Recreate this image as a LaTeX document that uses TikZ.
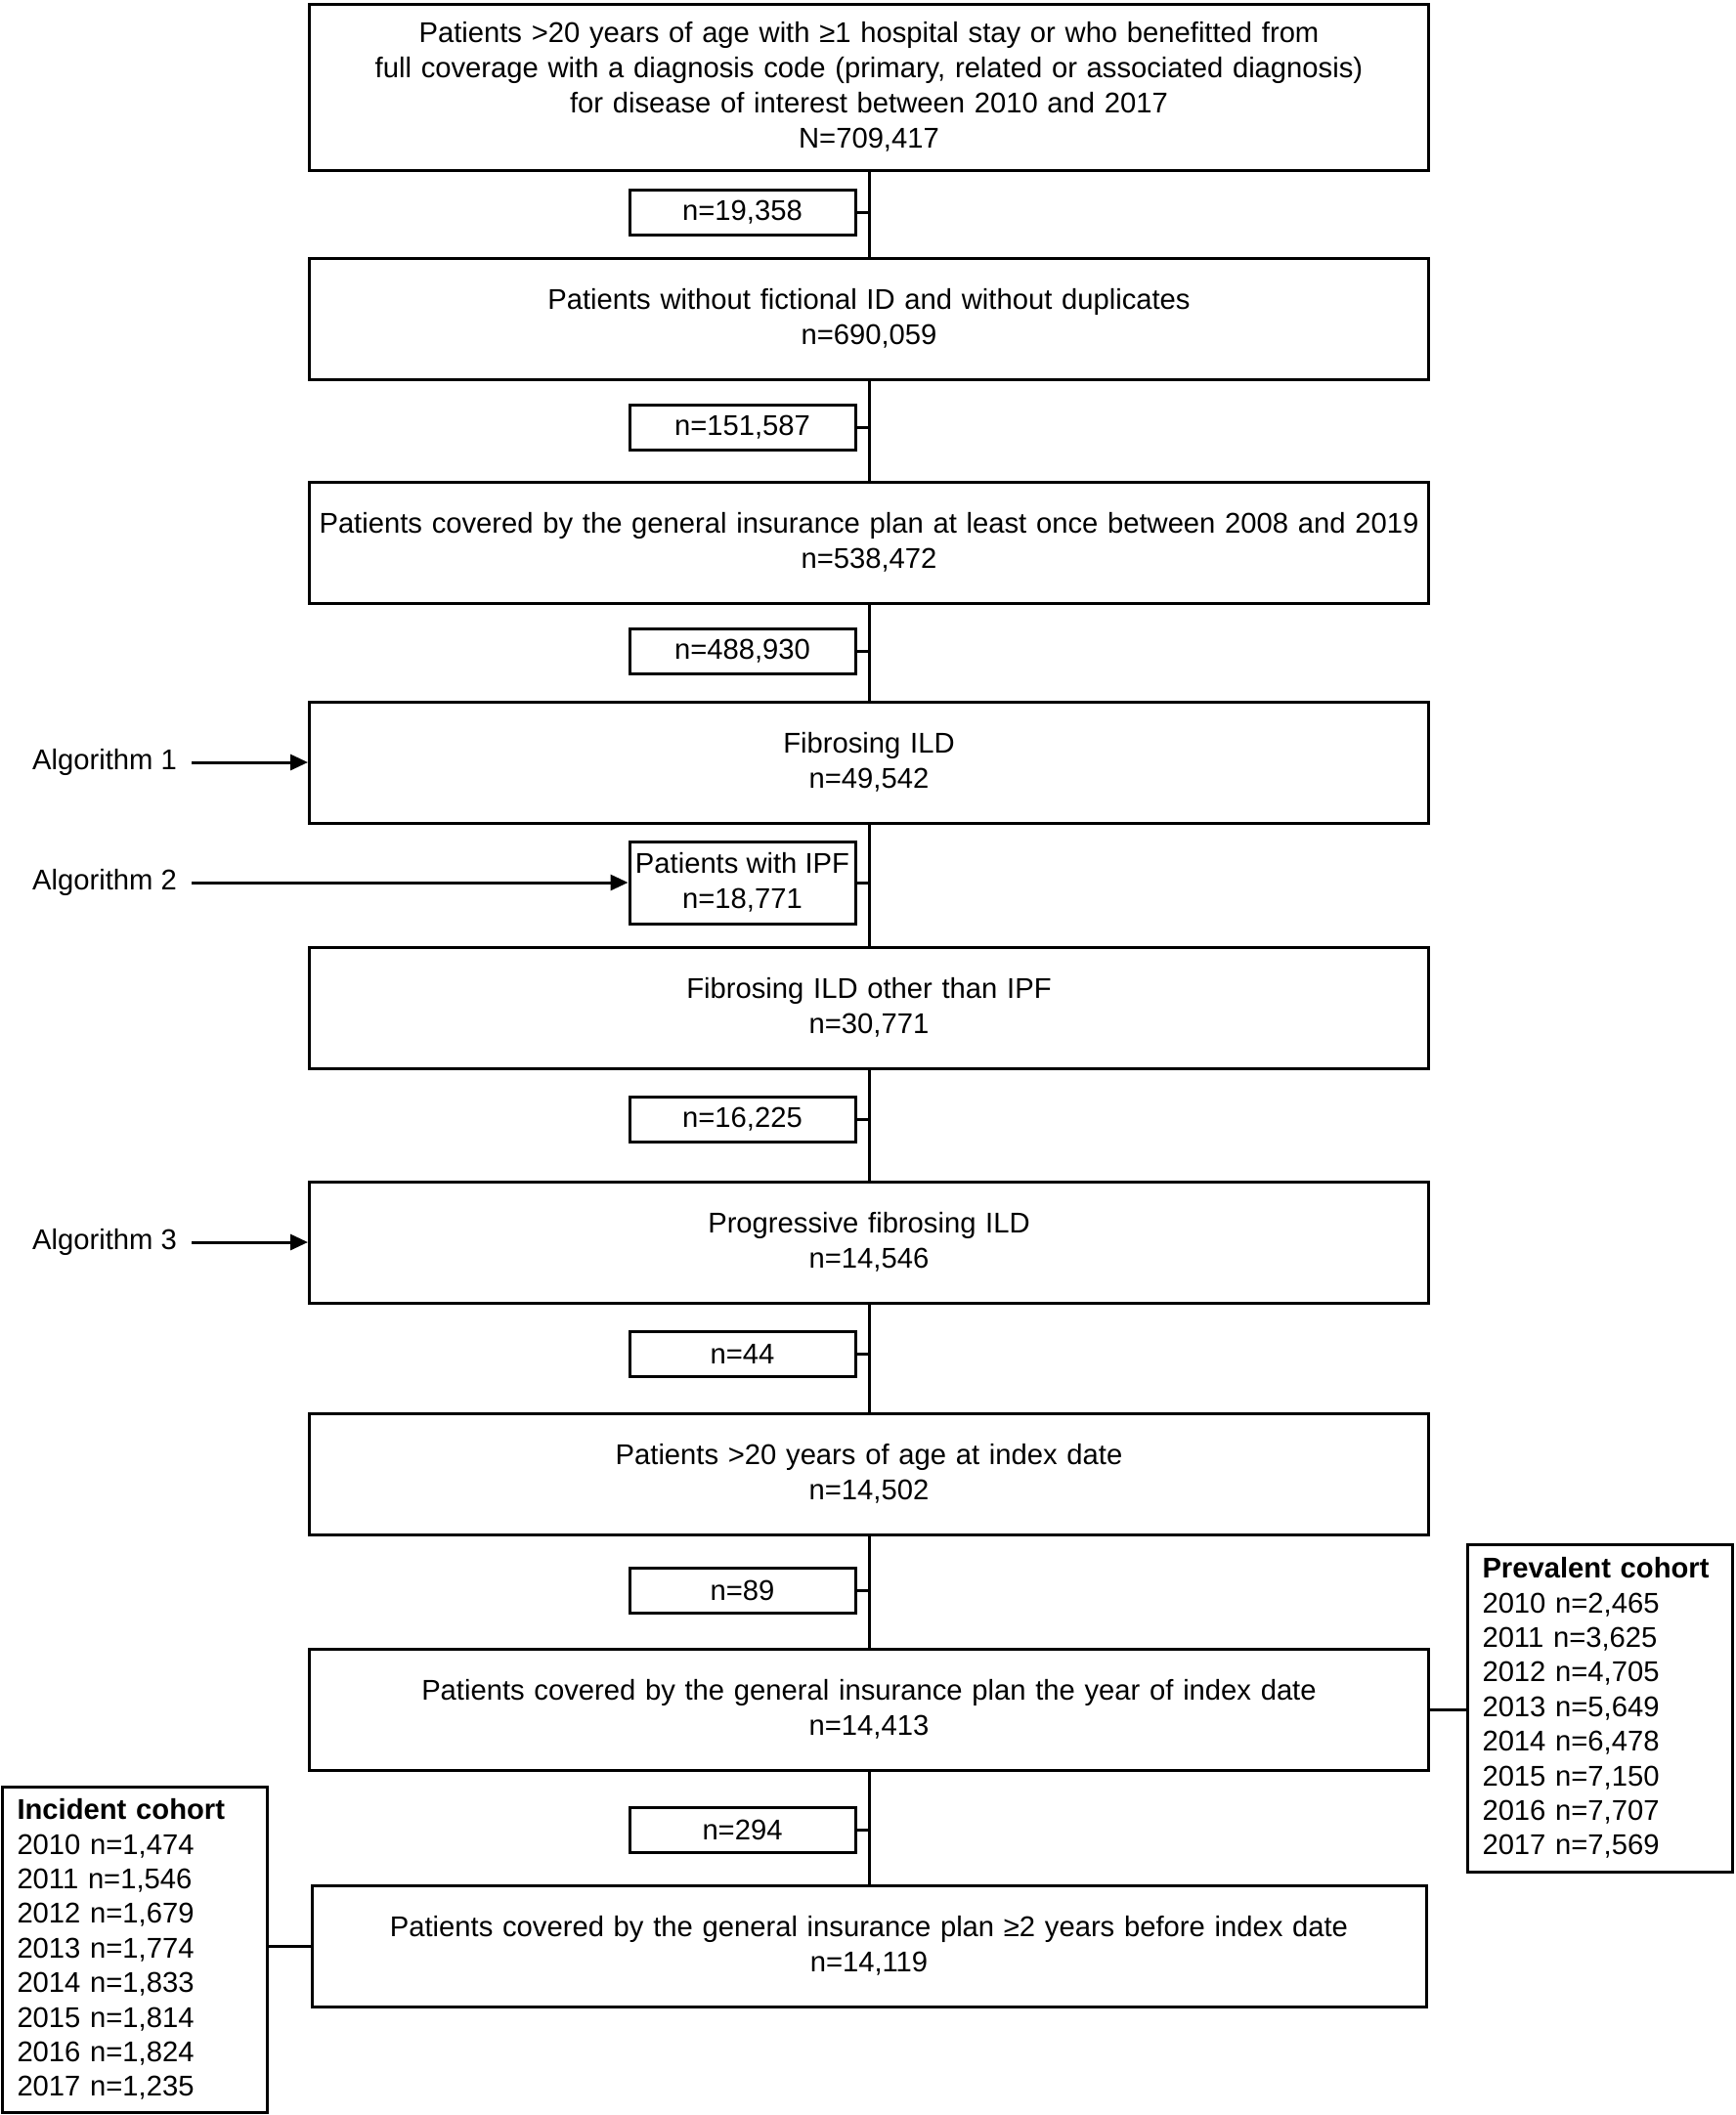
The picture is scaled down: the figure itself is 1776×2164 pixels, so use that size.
\documentclass[tikz,border=0pt]{standalone}
\usepackage{fontspec}
\setmainfont{Liberation Sans}
\usetikzlibrary{arrows.meta}
\begin{document}
\begin{tikzpicture}[x=1pt,y=-1pt,
  every node/.style={font=\fontsize{29.2}{36}\selectfont},
  mainbox/.style={draw, line width=3pt, text width=1135pt, inner xsep=5pt, inner ysep=0pt, minimum height=124pt, align=center},
  exclbox/.style={draw, line width=3pt, minimum width=231pt, minimum height=46pt, inner sep=0pt, align=center},
  cohortbox/.style={draw, line width=3pt, text width=240pt, inner xsep=15.5pt, inner ysep=0pt, minimum height=335pt, align=left, font=\fontsize{29.2}{35.4}\selectfont},
  alglabel/.style={inner sep=0pt, anchor=west},
  link/.style={line width=3pt},
  arr/.style={-{Triangle[length=18pt,width=16pt]}, line width=3pt, shorten <=15pt}]
\useasboundingbox (0,0) rectangle (1776,2164);

\node[mainbox, minimum height=170pt] (b1) at (889,89) {Patients >20 years of age with ≥1 hospital stay or who benefitted from\\full coverage with a diagnosis code (primary, related or associated diagnosis)\\for disease of interest between 2010 and 2017\\N=709,417};
\node[mainbox] (b2) at (889,326) {Patients without fictional ID and without duplicates\\n=690,059};
\node[mainbox, text width=1145pt, inner xsep=0pt] (b3) at (889,555) {Patients covered by the general insurance plan at least once between 2008 and 2019\\n=538,472};
\node[mainbox] (b4) at (889,780) {Fibrosing ILD\\n=49,542};
\node[mainbox] (b5) at (889,1031) {Fibrosing ILD other than IPF\\n=30,771};
\node[mainbox] (b6) at (889,1271) {Progressive fibrosing ILD\\n=14,546};
\node[mainbox] (b7) at (889,1508) {Patients >20 years of age at index date\\n=14,502};
\node[mainbox] (b8) at (889,1749) {Patients covered by the general insurance plan the year of index date\\n=14,413};
\node[mainbox, text width=1130pt] (b9) at (889,1991) {Patients covered by the general insurance plan ≥2 years before index date\\n=14,119};

\node[exclbox] (e1) at (759.5,217) {n=19,358};
\node[exclbox] (e2) at (759.5,437) {n=151,587};
\node[exclbox] (e3) at (759.5,666) {n=488,930};
\node[exclbox, minimum height=84pt] (ipf) at (759.5,903) {Patients with IPF\\n=18,771};
\node[exclbox] (e4) at (759.5,1145) {n=16,225};
\node[exclbox] (e5) at (759.5,1385) {n=44};
\node[exclbox] (e6) at (759.5,1627) {n=89};
\node[exclbox] (e7) at (759.5,1872) {n=294};

\node[alglabel] (a1) at (33,780) {Algorithm 1};
\node[alglabel] (a2) at (33,903) {Algorithm 2};
\node[alglabel] (a3) at (33,1271) {Algorithm 3};

\node[cohortbox] (prev) at (1636.5,1747.5) {\textbf{Prevalent cohort}\\2010 n=2,465\\2011 n=3,625\\2012 n=4,705\\2013 n=5,649\\2014 n=6,478\\2015 n=7,150\\2016 n=7,707\\2017 n=7,569};
\node[cohortbox, minimum height=333pt] (inc) at (137.5,1994.5) {\textbf{Incident cohort}\\2010 n=1,474\\2011 n=1,546\\2012 n=1,679\\2013 n=1,774\\2014 n=1,833\\2015 n=1,814\\2016 n=1,824\\2017 n=1,235};

\foreach \u/\v in {b1/b2,b2/b3,b3/b4,b4/b5,b5/b6,b6/b7,b7/b8,b8/b9}
  \draw[link] (\u.south) -- (\v.north);
\foreach \e in {e1,e2,e3,ipf,e4,e5,e6,e7}
  \draw[link] (\e.east) -- (\e.east -| b1.south);

\draw[arr] (a1.east) -- (b4.west);
\draw[arr] (a2.east) -- (ipf.west);
\draw[arr] (a3.east) -- (b6.west);

\draw[link] (b8.east) -- (b8.east -| prev.west);
\draw[link] (b9.west) -- (b9.west -| inc.east);
\end{tikzpicture}
\end{document}
